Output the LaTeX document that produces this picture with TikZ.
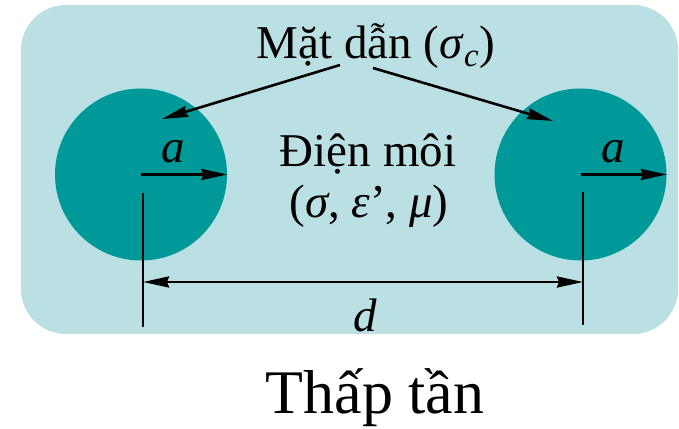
\documentclass[tikz,border=0pt]{standalone}
\usepackage{fontspec}
\setmainfont{Liberation Serif}
\usetikzlibrary{arrows.meta, positioning, calc}
\definecolor{myteal}{RGB}{0,153,153}
\definecolor{hdrteal}{RGB}{186,224,227}
\tikzset{
  conductor/.style={circle, fill=myteal, minimum size=86bp, inner sep=0pt},
  lbl/.style={font=\fontsize{23.5bp}{25.5bp}\selectfont, inner sep=0pt, anchor=base},
  biglbl/.style={font=\fontsize{31bp}{34bp}\selectfont, inner sep=0pt, anchor=base},
  pointer/.style={-{Stealth[length=13bp, width=5.5bp, inset=1bp]}, line width=1.3bp, color=black},
  dimline/.style={{Stealth[length=13bp, width=5.5bp, inset=1bp]}-{Stealth[length=13bp, width=5.5bp, inset=1bp]},
    line width=1.3bp, color=black},
  line/.style={line width=1.3bp, color=black}
}
\begin{document}
\begin{tikzpicture}[x=0.5bp, y=-0.5bp]
  \useasboundingbox (0,0) rectangle (679,429);
  % dielectric medium
  \fill[hdrteal, rounded corners=22.5bp] (21,5) rectangle (678,334);
  % conductors
  \node[conductor] (leftwire) at (141,174.5) {};
  \node[conductor] (rightwire) at (580.5,174.5) {};
  % labels
  \node[lbl] (surface) at (376,59) {Mặt dẫn (\textit{σ}\textsubscript{\textit{c}})};
  \node[lbl] (medium) at (368,167) {Điện môi};
  \node[lbl] (params) at (369,218) {(\textit{σ}, \textit{ε}’, \textit{μ})};
  % pointers to the conductor surfaces
  \coordinate (surfL) at (340,65);
  \coordinate (surfR) at (373,68);
  \coordinate (aimL) at (162,119);
  \coordinate (aimR) at (553,121);
  \draw[pointer] (surfL) -- (aimL);
  \draw[pointer] (surfR) -- (aimR);
  % radii
  \draw[pointer] (leftwire.center) -- (leftwire.east);
  \draw[pointer] (rightwire.center) -- (rightwire.east);
  \node[lbl] (leftradius) at (173,163) {\textit{a}};
  \node[lbl] (rightradius) at (613,163) {\textit{a}};
  % separation
  \coordinate (lefthead) at (143,193);
  \coordinate (leftfoot) at (143,327);
  \coordinate (righthead) at (583,192);
  \coordinate (rightfoot) at (583,325);
  \draw[line] (lefthead) -- (leftfoot);
  \draw[line] (righthead) -- (rightfoot);
  \draw[dimline] (lefthead |- 0,282) -- (righthead |- 0,282);
  \node[lbl] (dist) at (365,332) {\textit{d}};
  % caption
  \node[biglbl] (regime) at (375,414) {Thấp tần};
\end{tikzpicture}
\end{document}
